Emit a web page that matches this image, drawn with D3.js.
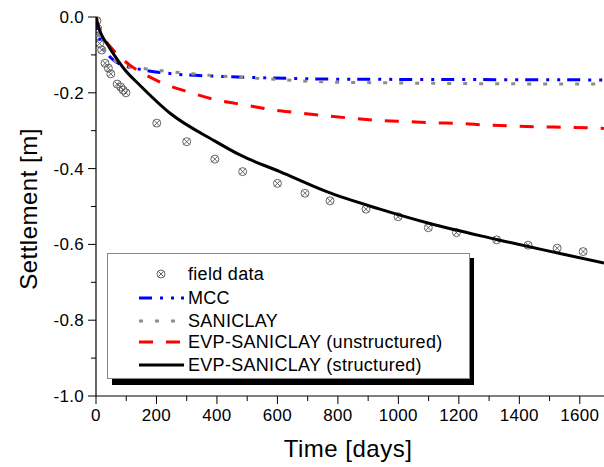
<!DOCTYPE html>
<html>
<head>
<meta charset="utf-8">
<script src="https://cdn.jsdelivr.net/npm/d3@7"></script>
<style>
  body { margin: 0; background: #fff; }
  svg { display: block; }
</style>
</head>
<body>
<div id="chart"></div>
<script>
// field measurements (days, settlement m)
var fieldDays = [3, 5, 8, 12, 19, 30, 41, 49, 70, 82, 90, 99, 201, 300, 393, 485, 600, 691, 774, 893, 999, 1099, 1192, 1325, 1429, 1525, 1611];
var fieldSet  = [-0.01, -0.03, -0.05, -0.07, -0.087, -0.122, -0.135, -0.150, -0.177, -0.185, -0.193, -0.200, -0.280, -0.329, -0.375, -0.408, -0.439, -0.465, -0.485, -0.507, -0.527, -0.556, -0.569, -0.588, -0.602, -0.610, -0.619];

var mccDays = [0, 2, 10, 20, 40, 60, 100, 145, 256, 421, 641, 800, 1200, 1680];
var mccSet  = [0, -0.02, -0.05, -0.075, -0.1, -0.115, -0.13, -0.138, -0.15, -0.157, -0.162, -0.164, -0.165, -0.166];

var sanDays = [0, 2, 10, 30, 60, 100, 167, 333, 586, 751, 1000, 1300, 1680];
var sanSet  = [0, -0.02, -0.05, -0.09, -0.115, -0.13, -0.137, -0.151, -0.164, -0.171, -0.174, -0.176, -0.177];

var evpuDays = [0, 10, 30, 60, 112, 145, 222, 311, 399, 493, 586, 663, 763, 845, 939, 1027, 1115, 1203, 1292, 1385, 1473, 1561, 1680];
var evpuSet  = [0, -0.03, -0.06, -0.09, -0.127, -0.144, -0.175, -0.199, -0.219, -0.232, -0.245, -0.252, -0.261, -0.267, -0.273, -0.276, -0.279, -0.281, -0.285, -0.288, -0.29, -0.291, -0.294];

var evpsDays = [0, 3, 10, 20, 40, 60, 96, 145, 245, 388, 476, 608, 763, 939, 1104, 1325, 1680];
var evpsSet  = [0, -0.012, -0.03, -0.05, -0.075, -0.1, -0.14, -0.18, -0.254, -0.325, -0.364, -0.408, -0.461, -0.507, -0.545, -0.587, -0.649];

var xTicks = [0, 200, 400, 600, 800, 1000, 1200, 1400, 1600];
var yTicks = [0, -0.2, -0.4, -0.6, -0.8, -1.0];
var yTickLabels = ["0.0", "-0.2", "-0.4", "-0.6", "-0.8", "-1.0"];

var legendNames = ["field data", "MCC", "SANICLAY", "EVP-SANICLAY (unstructured)", "EVP-SANICLAY (structured)"];

var W = 604, H = 467;
var font = "'Liberation Sans', Arial, sans-serif";

var svg = d3.select("#chart").append("svg")
  .attr("width", W)
  .attr("height", H);

var x = d3.scaleLinear().domain([0, 1680]).range([96, 604]);
var y = d3.scaleLinear().domain([-1, 0]).range([396, 17]);

svg.append("clipPath").attr("id", "clip")
  .append("rect").attr("x", 96).attr("y", 0).attr("width", 508).attr("height", 396);

var plot = svg.append("g").attr("clip-path", "url(#clip)");

function zip(a, b) { return a.map(function(d, i) { return [d, b[i]]; }); }

var line = d3.line()
  .x(function(d) { return x(d[0]); })
  .y(function(d) { return y(d[1]); })
  .curve(d3.curveMonotoneX);

// field data markers
function marker(g, cx, cy) {
  g.append("circle").attr("cx", cx).attr("cy", cy).attr("r", 4)
    .attr("fill", "none").attr("stroke", "#555").attr("stroke-width", 0.9);
  var r = 2.8;
  g.append("path")
    .attr("d", "M" + (cx - r) + "," + (cy - r) + "L" + (cx + r) + "," + (cy + r) +
               "M" + (cx - r) + "," + (cy + r) + "L" + (cx + r) + "," + (cy - r))
    .attr("stroke", "#555").attr("stroke-width", 0.9);
}
zip(fieldDays, fieldSet).forEach(function(d) { marker(plot, x(d[0]), y(d[1])); });

var series = [
  { data: zip(mccDays, mccSet), color: "#0000ff", dash: "13,8,3,8,3,7" },
  { data: zip(sanDays, sanSet), color: "#8c8c8c", dash: "4,12" },
  { data: zip(evpuDays, evpuSet), color: "#ff0000", dash: "14,13" },
  { data: zip(evpsDays, evpsSet), color: "#000000", dash: null }
];

series.forEach(function(s) {
  plot.append("path")
    .datum(s.data)
    .attr("d", line)
    .attr("fill", "none")
    .attr("stroke", s.color)
    .attr("stroke-width", 3)
    .attr("stroke-dasharray", s.dash);
});

// axes
var xAxis = svg.append("g").attr("transform", "translate(0,396)");
xAxis.append("line").attr("x1", 96).attr("x2", 604).attr("stroke", "#000").attr("stroke-width", 1.2);
d3.range(0, 1700, 100).forEach(function(t) {
  var major = t % 200 === 0;
  xAxis.append("line").attr("x1", x(t)).attr("x2", x(t)).attr("y1", 0).attr("y2", major ? 8 : 5)
    .attr("stroke", "#000").attr("stroke-width", 1);
});
xAxis.selectAll("text.tick").data(xTicks).enter().append("text")
  .attr("x", function(d) { return x(d); })
  .attr("y", 25)
  .attr("text-anchor", "middle")
  .attr("font-family", font)
  .attr("font-size", "17px")
  .attr("letter-spacing", "0.3px")
  .text(function(d) { return d; });

var yAxis = svg.append("g").attr("transform", "translate(96,0)");
yAxis.append("line").attr("y1", 17).attr("y2", 396).attr("stroke", "#000").attr("stroke-width", 1.2);
d3.range(0, 11).forEach(function(i) {
  var t = -i / 10;
  yAxis.append("line").attr("x1", 0).attr("x2", i % 2 === 0 ? -8 : -5).attr("y1", y(t)).attr("y2", y(t))
    .attr("stroke", "#000").attr("stroke-width", 1);
});
yAxis.selectAll("text.tick").data(yTicks).enter().append("text")
  .attr("x", -12)
  .attr("y", function(d) { return y(d); })
  .attr("dy", "0.35em")
  .attr("text-anchor", "end")
  .attr("font-family", font)
  .attr("font-size", "17px")
  .attr("letter-spacing", "0.3px")
  .text(function(d, i) { return yTickLabels[i]; });

svg.append("text")
  .attr("x", 348).attr("y", 457)
  .attr("text-anchor", "middle")
  .attr("font-family", font)
  .attr("font-size", "24px")
  .attr("letter-spacing", "0.5px")
  .text("Time [days]");

svg.append("text")
  .attr("transform", "translate(37,209) rotate(-90)")
  .attr("text-anchor", "middle")
  .attr("font-family", font)
  .attr("font-size", "24px")
  .attr("letter-spacing", "0.5px")
  .text("Settlement [m]");

// legend
var lg = svg.append("g");
lg.append("rect").attr("x", 112).attr("y", 258).attr("width", 362).attr("height", 127).attr("fill", "#000");
lg.append("rect").attr("x", 107.5).attr("y", 253.5).attr("width", 362).attr("height", 125)
  .attr("fill", "#fff").attr("stroke", "#888").attr("stroke-width", 1);

var rowY = [274, 298, 321, 342, 365];
marker(lg, 161, rowY[0]);
series.forEach(function(s, i) {
  lg.append("line")
    .attr("x1", 139).attr("x2", 184)
    .attr("y1", rowY[i + 1]).attr("y2", rowY[i + 1])
    .attr("stroke", s.color).attr("stroke-width", 3)
    .attr("stroke-dasharray", s.dash);
});
lg.selectAll("text.lab").data(legendNames).enter().append("text")
  .attr("x", 188)
  .attr("y", function(d, i) { return rowY[i]; })
  .attr("dy", "0.35em")
  .attr("font-family", font)
  .attr("font-size", "18px")
  .attr("letter-spacing", "0.3px")
  .text(function(d) { return d; });
</script>
</body>
</html>
